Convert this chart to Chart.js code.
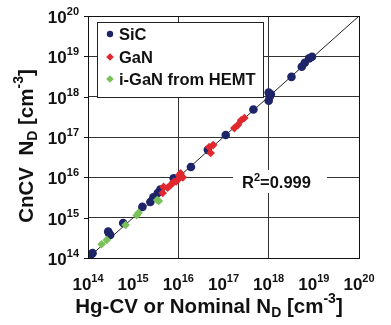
<!DOCTYPE html>
<html>
<head>
<meta charset="utf-8">
<script src="https://cdn.jsdelivr.net/npm/chart.js@4.4.0/dist/chart.umd.min.js"></script>
<style>
  html, body { margin: 0; padding: 0; background: #fff; }
</style>
</head>
<body>
<canvas id="chart" width="391" height="325"></canvas>
<script>
// decades shown on both axes (10^14 .. 10^20)
var decades = [14, 15, 16, 17, 18, 19, 20];

// SiC samples
var sicX = [1.05e14, 1.15e14, 1.26e14, 2.8e14, 2.95e14, 3.1e14, 6.0e14, 1.6e15, 2.4e15, 2.8e15,
            3.5e15, 4.0e15, 7.9e15, 1.9e16, 4.5e16, 1.12e17, 4.6e17, 1.0e18, 1.05e18, 1.12e18,
            1.0e18, 3.2e18, 5.4e18, 6.3e18, 7.9e18, 9.1e18];
var sicY = [1.07e14, 1.2e14, 1.32e14, 4.5e14, 4.0e14, 3.7e14, 7.4e14, 1.85e15, 2.45e15, 3.2e15,
            4.1e15, 5.0e15, 9.5e15, 1.8e16, 4.8e16, 1.12e17, 4.8e17, 7.9e17, 1.0e18, 1.15e18,
            1.26e18, 3.1e18, 5.5e18, 6.9e18, 8.9e18, 9.8e18];

// GaN samples
var ganX = [4.5e15, 4.7e15, 5.8e15, 6.8e15, 7.9e15, 8.9e15, 9.8e15, 1.12e16, 1.26e16, 1.05e16,
            4.8e16, 5.9e16, 5.2e16, 1.74e17, 2.1e17, 2.45e17, 2.9e17];
var ganY = [4.1e15, 5.8e15, 5.5e15, 6.5e15, 7.8e15, 7.9e15, 8.7e15, 1.26e16, 1.0e16, 1.12e16,
            5.6e16, 6.3e16, 4.0e16, 1.66e17, 2.0e17, 2.6e17, 2.95e17];

// i-GaN from HEMT samples
var hemtX = [2.0e14, 2.6e14, 6.8e14, 1.2e15, 1.32e15, 3.4e15, 3.7e15];
var hemtY = [2.2e14, 2.8e14, 6.6e14, 1.15e15, 1.32e15, 2.75e15, 2.6e15];

// y = x reference line
var fitX = [1e14, 1e20];
var fitY = [1e14, 1e20];

var navy = '#1e2468';
var red = '#e0282e';
var green = '#79c25a';
var FONT = '"Liberation Sans", Arial, sans-serif';

function pts(xs, ys) {
    return xs.map(function (x, i) { return { x: x, y: ys[i] }; });
}

// draw text made of parts with different sizes / vertical shifts (super/subscripts)
function richWidth(ctx, parts) {
    var w = 0;
    parts.forEach(function (p) {
        ctx.font = 'bold ' + p.s + 'px ' + FONT;
        w += ctx.measureText(p.t).width;
    });
    return w;
}
function drawRich(ctx, parts, x, y, align) {
    var w = richWidth(ctx, parts);
    var cx = align === 'center' ? x - w / 2 : (align === 'right' ? x - w : x);
    ctx.textAlign = 'left';
    ctx.textBaseline = 'alphabetic';
    parts.forEach(function (p) {
        ctx.font = 'bold ' + p.s + 'px ' + FONT;
        ctx.fillText(p.t, cx, y + (p.dy || 0));
        cx += ctx.measureText(p.t).width;
    });
}
function pow10(e) {
    return [{ t: '10', s: 17 }, { t: String(e), s: 11, dy: -8 }];
}

function decadeTicks(scale) {
    scale.ticks = decades.map(function (e) { return { value: Math.pow(10, e) }; });
}

var decor = {
    id: 'decor',
    afterDraw: function (chart) {
        var ctx = chart.ctx;
        var a = chart.chartArea;
        var xs = chart.scales.x, ys = chart.scales.y;
        ctx.save();
        ctx.fillStyle = '#111';
        ctx.strokeStyle = '#111';
        ctx.lineWidth = 1;

        // frame
        ctx.strokeRect(Math.round(a.left) + 0.5, Math.round(a.top) + 0.5,
                       Math.round(a.right - a.left), Math.round(a.bottom - a.top));

        // tick labels + left tick marks
        decades.forEach(function (e) {
            var v = Math.pow(10, e);
            var px = xs.getPixelForValue(v);
            var py = ys.getPixelForValue(v);
            drawRich(ctx, pow10(e), px, 290, 'center');
            drawRich(ctx, pow10(e), 79, py + 7, 'right');
            ctx.beginPath();
            ctx.moveTo(a.left - 4, Math.round(py) + 0.5);
            ctx.lineTo(a.left, Math.round(py) + 0.5);
            ctx.stroke();
        });

        // axis titles
        var sz = 20.5;
        drawRich(ctx, [
            { t: 'Hg-CV or Nominal N', s: sz }, { t: 'D', s: 14, dy: 4 },
            { t: ' [cm', s: sz }, { t: '-3', s: 14, dy: -10 }, { t: ']', s: sz }
        ], 209, 313, 'center');

        ctx.save();
        ctx.translate(33, 146);
        ctx.rotate(-Math.PI / 2);
        drawRich(ctx, [
            { t: 'CnCV  N', s: sz }, { t: 'D', s: 14, dy: 4 },
            { t: ' [cm', s: sz }, { t: '-3', s: 14, dy: -10 }, { t: ']', s: sz }
        ], 0, 0, 'center');
        ctx.restore();

        // legend box
        ctx.fillStyle = '#fff';
        ctx.fillRect(97, 22, 166, 75);
        ctx.strokeStyle = '#222';
        ctx.strokeRect(97.5, 22.5, 166, 75);
        var items = [
            { label: 'SiC', color: navy, style: 'circle', y: 34 },
            { label: 'GaN', color: red, style: 'rectRot', y: 57 },
            { label: 'i-GaN from HEMT', color: green, style: 'rectRot', y: 79 }
        ];
        items.forEach(function (it) {
            ctx.fillStyle = it.color;
            ctx.beginPath();
            if (it.style === 'circle') {
                ctx.arc(110, it.y, 3.2, 0, Math.PI * 2);
            } else {
                ctx.moveTo(110, it.y - 3.8); ctx.lineTo(113.8, it.y);
                ctx.lineTo(110, it.y + 3.8); ctx.lineTo(106.2, it.y);
                ctx.closePath();
            }
            ctx.fill();
            ctx.fillStyle = '#111';
            drawRich(ctx, [{ t: it.label, s: 16.5 }], 119, it.y + 6, 'left');
        });

        // R^2 annotation
        ctx.fillStyle = '#fff';
        ctx.fillRect(233, 170, 94, 23);
        ctx.fillStyle = '#111';
        drawRich(ctx, [{ t: 'R', s: 16.5 }, { t: '2', s: 11, dy: -7 }, { t: '=0.999', s: 16.5 }], 242, 188, 'left');

        ctx.restore();
    }
};

new Chart(document.getElementById('chart').getContext('2d'), {
    type: 'scatter',
    data: {
        datasets: [{
            label: 'fit',
            data: pts(fitX, fitY),
            showLine: true,
            borderColor: '#222',
            borderWidth: 1,
            pointRadius: 0,
            order: 10
        }, {
            label: 'SiC',
            data: pts(sicX, sicY),
            pointStyle: 'circle',
            pointRadius: 4.3,
            backgroundColor: navy,
            borderColor: navy,
            borderWidth: 0,
            order: 3
        }, {
            label: 'GaN',
            data: pts(ganX, ganY),
            pointStyle: 'rectRot',
            pointRadius: 4.3,
            backgroundColor: red,
            borderColor: red,
            borderWidth: 0,
            order: 2
        }, {
            label: 'i-GaN from HEMT',
            data: pts(hemtX, hemtY),
            pointStyle: 'rectRot',
            pointRadius: 4.3,
            backgroundColor: green,
            borderColor: green,
            borderWidth: 0,
            order: 1
        }]
    },
    options: {
        responsive: false,
        animation: false,
        devicePixelRatio: 1,
        layout: { padding: { left: 88, top: 16, right: 32, bottom: 67 } },
        plugins: { legend: { display: false }, tooltip: { enabled: false } },
        scales: {
            x: {
                type: 'logarithmic',
                min: 1e14,
                max: 1e20,
                afterBuildTicks: decadeTicks,
                afterFit: function (s) { s.height = 0; },
                ticks: { display: false },
                border: { display: true, color: '#111', width: 1 },
                grid: {
                    drawTicks: false,
                    lineWidth: 1,
                    color: function (c) {
                        var e = Math.round(Math.log10(c.tick.value));
                        return e % 2 === 0 ? '#333' : 'rgba(0,0,0,0)';
                    }
                }
            },
            y: {
                type: 'logarithmic',
                min: 1e14,
                max: 1e20,
                afterBuildTicks: decadeTicks,
                afterFit: function (s) { s.width = 0; },
                ticks: { display: false },
                border: { display: true, color: '#111', width: 1 },
                grid: { drawTicks: false, lineWidth: 1, color: '#333' }
            }
        }
    },
    plugins: [decor]
});
</script>
</body>
</html>
